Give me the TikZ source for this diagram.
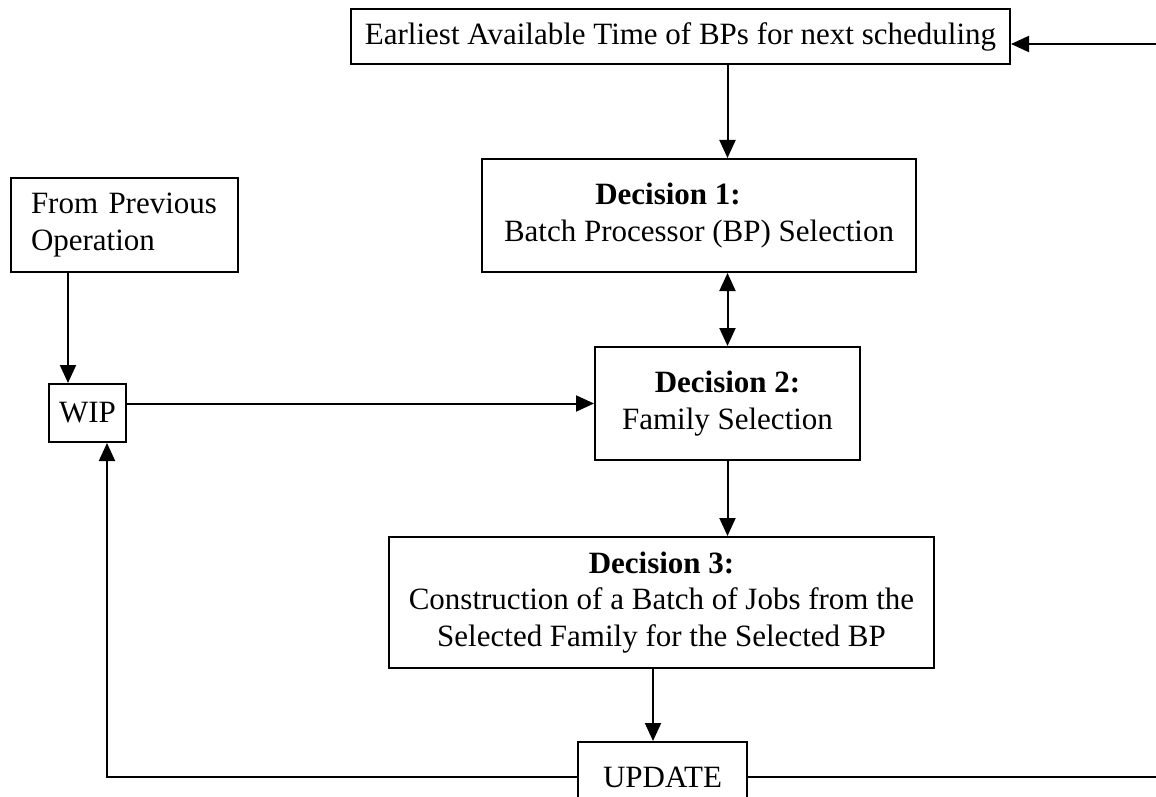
\documentclass[tikz,border=0pt]{standalone}
\usepackage{fontspec}
\setmainfont{Liberation Serif}
\usetikzlibrary{arrows.meta}
\begin{document}
\begin{tikzpicture}[x=1pt,y=-1pt,
  box/.style={draw,line width=2pt,inner sep=0pt,align=center,
    font=\fontsize{31}{36.5}\selectfont},
  arr/.style={line width=2pt,-{Triangle[length=18pt,width=16pt]}},
  arrb/.style={line width=2pt,{Triangle[length=18pt,width=16pt]}-{Triangle[length=18pt,width=16pt]}},
  ln/.style={line width=2pt}]
\clip (0,0) rectangle (1156,797);
\fill[white] (0,0) rectangle (1156,797);
\node[box,minimum width=659pt,minimum height=55pt] (top) at (680.5,36.5)
  {Earliest Available Time of BPs for next scheduling};
\node[box,minimum width=434pt,minimum height=113pt] (d1) at (699,215.5)
  {\textbf{Decision 1:}\hspace*{62pt}\\Batch Processor (BP) Selection};
\node[box,minimum width=265pt,minimum height=113pt] (d2) at (727.5,403.5)
  {\textbf{Decision 2:}\\Family Selection};
\node[box,minimum width=545pt,minimum height=131pt] (d3) at (661.5,602.5)
  {\textbf{Decision 3:}\\Construction of a Batch of Jobs from the\\Selected Family for the Selected BP};
\node[box,minimum width=169pt,minimum height=70pt] (upd) at (662.5,777) {UPDATE};
\node[box,minimum width=227pt,minimum height=94pt,text width=187pt,align=left] (fp) at (124.5,225)
  {From Previous\\Operation};
\node[box,minimum width=77pt,minimum height=58pt] (wip) at (87.5,413) {WIP};
\coordinate (rt) at (1156,44);
\coordinate (re) at (1156,777);
\coordinate (lc) at (107,777);
\draw[arr] (rt) -- (top.east |- rt);
\draw[arr] (top.south -| d2.north) -- (d1.north -| d2.north);
\draw[arrb] (d1.south -| d2.north) -- (d2.north);
\draw[arr] (d2.south) -- (d3.north -| d2.south);
\draw[arr] ([xshift=-9.5pt]upd.north |- d3.south) -- ([xshift=-9.5pt]upd.north);
\draw[arr] ([xshift=-19.5pt]wip.north |- fp.south) -- ([xshift=-19.5pt]wip.north);
\draw[arr] (wip.east |- d2.west) -- (d2.west);
\draw[ln] (upd.east) -- (re);
\draw[arr] (upd.west) -- (lc) -- (lc |- wip.south);
\end{tikzpicture}
\end{document}
